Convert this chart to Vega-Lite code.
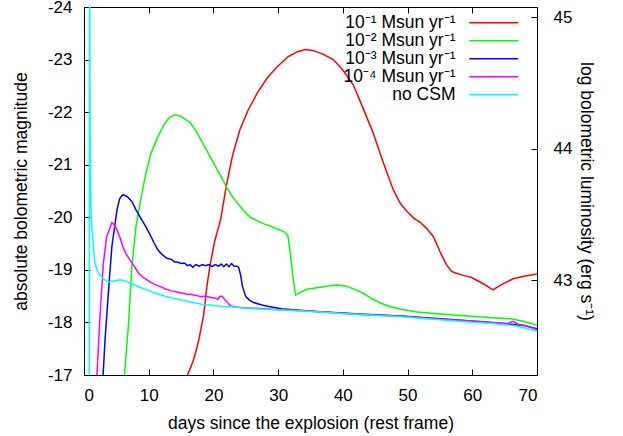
{
  "$schema": "https://vega.github.io/schema/vega-lite/v6.json",
  "autosize": {"type": "none"},
  "padding": {"left": 84, "top": 7, "right": 86, "bottom": 61},
  "width": 453,
  "height": 368,
  "background": "white",
  "config": {
    "font": "Liberation Sans",
    "view": {"stroke": "black", "strokeWidth": 1},
    "axis": {"grid": false, "domain": false, "tickColor": "black", "tickSize": -6, "tickWidth": 1, "labelFont": "Liberation Sans", "labelFontSize": 17, "labelColor": "black", "titleFont": "Liberation Sans", "titleFontSize": 17.5, "titleFontWeight": "normal", "titleColor": "black"}
  },
  "resolve": {"scale": {"y": "independent"}, "axis": {"x": "independent", "y": "independent"}},
  "layer": [
    {
      "data": {"values": [
        {"model": "10⁻¹ Msun yr⁻¹", "t": 15.5, "m": -16.3},
        {"model": "10⁻¹ Msun yr⁻¹", "t": 16.0, "m": -17.0},
        {"model": "10⁻¹ Msun yr⁻¹", "t": 16.5, "m": -17.15},
        {"model": "10⁻¹ Msun yr⁻¹", "t": 16.9, "m": -17.28},
        {"model": "10⁻¹ Msun yr⁻¹", "t": 17.4, "m": -17.5},
        {"model": "10⁻¹ Msun yr⁻¹", "t": 17.8, "m": -17.7},
        {"model": "10⁻¹ Msun yr⁻¹", "t": 18.5, "m": -18.15},
        {"model": "10⁻¹ Msun yr⁻¹", "t": 19.0, "m": -18.7},
        {"model": "10⁻¹ Msun yr⁻¹", "t": 19.5, "m": -19.1},
        {"model": "10⁻¹ Msun yr⁻¹", "t": 20.2, "m": -19.55},
        {"model": "10⁻¹ Msun yr⁻¹", "t": 21.1, "m": -19.95},
        {"model": "10⁻¹ Msun yr⁻¹", "t": 22.0, "m": -20.6},
        {"model": "10⁻¹ Msun yr⁻¹", "t": 23.0, "m": -21.2},
        {"model": "10⁻¹ Msun yr⁻¹", "t": 24.1, "m": -21.67},
        {"model": "10⁻¹ Msun yr⁻¹", "t": 25.4, "m": -22.05},
        {"model": "10⁻¹ Msun yr⁻¹", "t": 26.8, "m": -22.37},
        {"model": "10⁻¹ Msun yr⁻¹", "t": 28.3, "m": -22.65},
        {"model": "10⁻¹ Msun yr⁻¹", "t": 29.9, "m": -22.87},
        {"model": "10⁻¹ Msun yr⁻¹", "t": 31.5, "m": -23.05},
        {"model": "10⁻¹ Msun yr⁻¹", "t": 33.0, "m": -23.15},
        {"model": "10⁻¹ Msun yr⁻¹", "t": 34.2, "m": -23.19},
        {"model": "10⁻¹ Msun yr⁻¹", "t": 35.5, "m": -23.17},
        {"model": "10⁻¹ Msun yr⁻¹", "t": 37.0, "m": -23.1},
        {"model": "10⁻¹ Msun yr⁻¹", "t": 38.5, "m": -23.0},
        {"model": "10⁻¹ Msun yr⁻¹", "t": 40.0, "m": -22.8},
        {"model": "10⁻¹ Msun yr⁻¹", "t": 41.6, "m": -22.52},
        {"model": "10⁻¹ Msun yr⁻¹", "t": 42.7, "m": -22.2},
        {"model": "10⁻¹ Msun yr⁻¹", "t": 43.7, "m": -21.9},
        {"model": "10⁻¹ Msun yr⁻¹", "t": 44.7, "m": -21.6},
        {"model": "10⁻¹ Msun yr⁻¹", "t": 45.8, "m": -21.2},
        {"model": "10⁻¹ Msun yr⁻¹", "t": 46.8, "m": -20.85},
        {"model": "10⁻¹ Msun yr⁻¹", "t": 47.8, "m": -20.52},
        {"model": "10⁻¹ Msun yr⁻¹", "t": 48.8, "m": -20.28},
        {"model": "10⁻¹ Msun yr⁻¹", "t": 49.7, "m": -20.14},
        {"model": "10⁻¹ Msun yr⁻¹", "t": 51.0, "m": -19.98},
        {"model": "10⁻¹ Msun yr⁻¹", "t": 52.0, "m": -19.9},
        {"model": "10⁻¹ Msun yr⁻¹", "t": 53.0, "m": -19.78},
        {"model": "10⁻¹ Msun yr⁻¹", "t": 54.0, "m": -19.63},
        {"model": "10⁻¹ Msun yr⁻¹", "t": 55.0, "m": -19.35},
        {"model": "10⁻¹ Msun yr⁻¹", "t": 56.0, "m": -19.1},
        {"model": "10⁻¹ Msun yr⁻¹", "t": 56.8, "m": -18.97},
        {"model": "10⁻¹ Msun yr⁻¹", "t": 57.4, "m": -18.94},
        {"model": "10⁻¹ Msun yr⁻¹", "t": 58.5, "m": -18.9},
        {"model": "10⁻¹ Msun yr⁻¹", "t": 59.8, "m": -18.86},
        {"model": "10⁻¹ Msun yr⁻¹", "t": 61.5, "m": -18.75},
        {"model": "10⁻¹ Msun yr⁻¹", "t": 63.2, "m": -18.62},
        {"model": "10⁻¹ Msun yr⁻¹", "t": 64.5, "m": -18.72},
        {"model": "10⁻¹ Msun yr⁻¹", "t": 66.3, "m": -18.83},
        {"model": "10⁻¹ Msun yr⁻¹", "t": 68.0, "m": -18.88},
        {"model": "10⁻¹ Msun yr⁻¹", "t": 70.0, "m": -18.92},

        {"model": "10⁻² Msun yr⁻¹", "t": 5.95, "m": -16.5},
        {"model": "10⁻² Msun yr⁻¹", "t": 6.25, "m": -17.0},
        {"model": "10⁻² Msun yr⁻¹", "t": 6.9, "m": -18.0},
        {"model": "10⁻² Msun yr⁻¹", "t": 7.35, "m": -19.0},
        {"model": "10⁻² Msun yr⁻¹", "t": 8.0, "m": -19.8},
        {"model": "10⁻² Msun yr⁻¹", "t": 8.7, "m": -20.3},
        {"model": "10⁻² Msun yr⁻¹", "t": 9.5, "m": -20.8},
        {"model": "10⁻² Msun yr⁻¹", "t": 10.3, "m": -21.2},
        {"model": "10⁻² Msun yr⁻¹", "t": 11.3, "m": -21.5},
        {"model": "10⁻² Msun yr⁻¹", "t": 12.3, "m": -21.75},
        {"model": "10⁻² Msun yr⁻¹", "t": 13.2, "m": -21.9},
        {"model": "10⁻² Msun yr⁻¹", "t": 14.1, "m": -21.95},
        {"model": "10⁻² Msun yr⁻¹", "t": 15.0, "m": -21.92},
        {"model": "10⁻² Msun yr⁻¹", "t": 16.4, "m": -21.8},
        {"model": "10⁻² Msun yr⁻¹", "t": 17.4, "m": -21.62},
        {"model": "10⁻² Msun yr⁻¹", "t": 18.4, "m": -21.4},
        {"model": "10⁻² Msun yr⁻¹", "t": 19.5, "m": -21.15},
        {"model": "10⁻² Msun yr⁻¹", "t": 20.6, "m": -20.9},
        {"model": "10⁻² Msun yr⁻¹", "t": 21.4, "m": -20.72},
        {"model": "10⁻² Msun yr⁻¹", "t": 22.1, "m": -20.56},
        {"model": "10⁻² Msun yr⁻¹", "t": 22.9, "m": -20.4},
        {"model": "10⁻² Msun yr⁻¹", "t": 23.7, "m": -20.27},
        {"model": "10⁻² Msun yr⁻¹", "t": 24.7, "m": -20.12},
        {"model": "10⁻² Msun yr⁻¹", "t": 25.7, "m": -20.0},
        {"model": "10⁻² Msun yr⁻¹", "t": 26.7, "m": -19.94},
        {"model": "10⁻² Msun yr⁻¹", "t": 27.7, "m": -19.88},
        {"model": "10⁻² Msun yr⁻¹", "t": 29.5, "m": -19.8},
        {"model": "10⁻² Msun yr⁻¹", "t": 31.0, "m": -19.72},
        {"model": "10⁻² Msun yr⁻¹", "t": 31.5, "m": -19.65},
        {"model": "10⁻² Msun yr⁻¹", "t": 31.9, "m": -19.3},
        {"model": "10⁻² Msun yr⁻¹", "t": 32.3, "m": -18.85},
        {"model": "10⁻² Msun yr⁻¹", "t": 32.7, "m": -18.52},
        {"model": "10⁻² Msun yr⁻¹", "t": 33.5, "m": -18.58},
        {"model": "10⁻² Msun yr⁻¹", "t": 34.5, "m": -18.63},
        {"model": "10⁻² Msun yr⁻¹", "t": 36.5, "m": -18.67},
        {"model": "10⁻² Msun yr⁻¹", "t": 38.0, "m": -18.7},
        {"model": "10⁻² Msun yr⁻¹", "t": 39.2, "m": -18.71},
        {"model": "10⁻² Msun yr⁻¹", "t": 40.5, "m": -18.69},
        {"model": "10⁻² Msun yr⁻¹", "t": 42.0, "m": -18.62},
        {"model": "10⁻² Msun yr⁻¹", "t": 43.2, "m": -18.55},
        {"model": "10⁻² Msun yr⁻¹", "t": 44.5, "m": -18.45},
        {"model": "10⁻² Msun yr⁻¹", "t": 46.0, "m": -18.36},
        {"model": "10⁻² Msun yr⁻¹", "t": 47.4, "m": -18.3},
        {"model": "10⁻² Msun yr⁻¹", "t": 49.0, "m": -18.25},
        {"model": "10⁻² Msun yr⁻¹", "t": 51.5, "m": -18.2},
        {"model": "10⁻² Msun yr⁻¹", "t": 55.0, "m": -18.16},
        {"model": "10⁻² Msun yr⁻¹", "t": 59.3, "m": -18.12},
        {"model": "10⁻² Msun yr⁻¹", "t": 63.0, "m": -18.09},
        {"model": "10⁻² Msun yr⁻¹", "t": 65.9, "m": -18.07},
        {"model": "10⁻² Msun yr⁻¹", "t": 67.5, "m": -18.03},
        {"model": "10⁻² Msun yr⁻¹", "t": 70.0, "m": -17.95},

        {"model": "10⁻³ Msun yr⁻¹", "t": 2.7, "m": -16.6},
        {"model": "10⁻³ Msun yr⁻¹", "t": 2.95, "m": -17.0},
        {"model": "10⁻³ Msun yr⁻¹", "t": 3.25, "m": -17.67},
        {"model": "10⁻³ Msun yr⁻¹", "t": 3.8, "m": -18.62},
        {"model": "10⁻³ Msun yr⁻¹", "t": 4.3, "m": -19.44},
        {"model": "10⁻³ Msun yr⁻¹", "t": 5.1, "m": -20.14},
        {"model": "10⁻³ Msun yr⁻¹", "t": 5.5, "m": -20.35},
        {"model": "10⁻³ Msun yr⁻¹", "t": 6.0, "m": -20.43},
        {"model": "10⁻³ Msun yr⁻¹", "t": 6.6, "m": -20.4},
        {"model": "10⁻³ Msun yr⁻¹", "t": 7.4, "m": -20.3},
        {"model": "10⁻³ Msun yr⁻¹", "t": 8.0, "m": -20.15},
        {"model": "10⁻³ Msun yr⁻¹", "t": 8.7, "m": -20.0},
        {"model": "10⁻³ Msun yr⁻¹", "t": 9.5, "m": -19.83},
        {"model": "10⁻³ Msun yr⁻¹", "t": 10.2, "m": -19.67},
        {"model": "10⁻³ Msun yr⁻¹", "t": 10.8, "m": -19.52},
        {"model": "10⁻³ Msun yr⁻¹", "t": 11.4, "m": -19.38},
        {"model": "10⁻³ Msun yr⁻¹", "t": 12.0, "m": -19.3},
        {"model": "10⁻³ Msun yr⁻¹", "t": 12.8, "m": -19.22},
        {"model": "10⁻³ Msun yr⁻¹", "t": 13.5, "m": -19.2},
        {"model": "10⁻³ Msun yr⁻¹", "t": 14.0, "m": -19.15},
        {"model": "10⁻³ Msun yr⁻¹", "t": 14.4, "m": -19.15},
        {"model": "10⁻³ Msun yr⁻¹", "t": 15.0, "m": -19.12},
        {"model": "10⁻³ Msun yr⁻¹", "t": 15.5, "m": -19.13},
        {"model": "10⁻³ Msun yr⁻¹", "t": 16.0, "m": -19.08},
        {"model": "10⁻³ Msun yr⁻¹", "t": 16.4, "m": -19.1},
        {"model": "10⁻³ Msun yr⁻¹", "t": 16.8, "m": -19.05},
        {"model": "10⁻³ Msun yr⁻¹", "t": 17.3, "m": -19.1},
        {"model": "10⁻³ Msun yr⁻¹", "t": 17.8, "m": -19.07},
        {"model": "10⁻³ Msun yr⁻¹", "t": 18.3, "m": -19.1},
        {"model": "10⁻³ Msun yr⁻¹", "t": 18.8, "m": -19.08},
        {"model": "10⁻³ Msun yr⁻¹", "t": 19.3, "m": -19.1},
        {"model": "10⁻³ Msun yr⁻¹", "t": 19.8, "m": -19.06},
        {"model": "10⁻³ Msun yr⁻¹", "t": 20.3, "m": -19.1},
        {"model": "10⁻³ Msun yr⁻¹", "t": 20.8, "m": -19.07},
        {"model": "10⁻³ Msun yr⁻¹", "t": 21.2, "m": -19.11},
        {"model": "10⁻³ Msun yr⁻¹", "t": 21.6, "m": -19.06},
        {"model": "10⁻³ Msun yr⁻¹", "t": 22.0, "m": -19.11},
        {"model": "10⁻³ Msun yr⁻¹", "t": 22.4, "m": -19.06},
        {"model": "10⁻³ Msun yr⁻¹", "t": 22.8, "m": -19.12},
        {"model": "10⁻³ Msun yr⁻¹", "t": 23.2, "m": -19.07},
        {"model": "10⁻³ Msun yr⁻¹", "t": 23.6, "m": -19.07},
        {"model": "10⁻³ Msun yr⁻¹", "t": 23.9, "m": -19.05},
        {"model": "10⁻³ Msun yr⁻¹", "t": 24.2, "m": -18.9},
        {"model": "10⁻³ Msun yr⁻¹", "t": 24.5, "m": -18.68},
        {"model": "10⁻³ Msun yr⁻¹", "t": 25.0, "m": -18.49},
        {"model": "10⁻³ Msun yr⁻¹", "t": 25.6, "m": -18.42},
        {"model": "10⁻³ Msun yr⁻¹", "t": 26.2, "m": -18.38},
        {"model": "10⁻³ Msun yr⁻¹", "t": 27.5, "m": -18.33},
        {"model": "10⁻³ Msun yr⁻¹", "t": 28.8, "m": -18.3},
        {"model": "10⁻³ Msun yr⁻¹", "t": 30.5, "m": -18.26},
        {"model": "10⁻³ Msun yr⁻¹", "t": 32.4, "m": -18.24},
        {"model": "10⁻³ Msun yr⁻¹", "t": 36.0, "m": -18.21},
        {"model": "10⁻³ Msun yr⁻¹", "t": 40.0, "m": -18.18},
        {"model": "10⁻³ Msun yr⁻¹", "t": 44.0, "m": -18.15},
        {"model": "10⁻³ Msun yr⁻¹", "t": 48.9, "m": -18.12},
        {"model": "10⁻³ Msun yr⁻¹", "t": 54.0, "m": -18.08},
        {"model": "10⁻³ Msun yr⁻¹", "t": 59.3, "m": -18.03},
        {"model": "10⁻³ Msun yr⁻¹", "t": 63.0, "m": -18.0},
        {"model": "10⁻³ Msun yr⁻¹", "t": 66.4, "m": -17.96},
        {"model": "10⁻³ Msun yr⁻¹", "t": 68.0, "m": -17.94},
        {"model": "10⁻³ Msun yr⁻¹", "t": 70.0, "m": -17.88},

        {"model": "10⁻⁴ Msun yr⁻¹", "t": 1.85, "m": -16.6},
        {"model": "10⁻⁴ Msun yr⁻¹", "t": 2.0, "m": -17.0},
        {"model": "10⁻⁴ Msun yr⁻¹", "t": 2.5, "m": -18.18},
        {"model": "10⁻⁴ Msun yr⁻¹", "t": 3.0, "m": -19.13},
        {"model": "10⁻⁴ Msun yr⁻¹", "t": 3.5, "m": -19.63},
        {"model": "10⁻⁴ Msun yr⁻¹", "t": 4.3, "m": -19.9},
        {"model": "10⁻⁴ Msun yr⁻¹", "t": 4.7, "m": -19.85},
        {"model": "10⁻⁴ Msun yr⁻¹", "t": 5.1, "m": -19.76},
        {"model": "10⁻⁴ Msun yr⁻¹", "t": 5.6, "m": -19.6},
        {"model": "10⁻⁴ Msun yr⁻¹", "t": 6.0, "m": -19.44},
        {"model": "10⁻⁴ Msun yr⁻¹", "t": 6.5, "m": -19.3},
        {"model": "10⁻⁴ Msun yr⁻¹", "t": 7.1, "m": -19.19},
        {"model": "10⁻⁴ Msun yr⁻¹", "t": 7.7, "m": -19.08},
        {"model": "10⁻⁴ Msun yr⁻¹", "t": 8.4, "m": -18.94},
        {"model": "10⁻⁴ Msun yr⁻¹", "t": 9.2, "m": -18.85},
        {"model": "10⁻⁴ Msun yr⁻¹", "t": 10.2, "m": -18.77},
        {"model": "10⁻⁴ Msun yr⁻¹", "t": 11.0, "m": -18.72},
        {"model": "10⁻⁴ Msun yr⁻¹", "t": 11.8, "m": -18.68},
        {"model": "10⁻⁴ Msun yr⁻¹", "t": 12.5, "m": -18.64},
        {"model": "10⁻⁴ Msun yr⁻¹", "t": 13.0, "m": -18.62},
        {"model": "10⁻⁴ Msun yr⁻¹", "t": 13.5, "m": -18.6},
        {"model": "10⁻⁴ Msun yr⁻¹", "t": 14.0, "m": -18.59},
        {"model": "10⁻⁴ Msun yr⁻¹", "t": 14.4, "m": -18.58},
        {"model": "10⁻⁴ Msun yr⁻¹", "t": 15.0, "m": -18.56},
        {"model": "10⁻⁴ Msun yr⁻¹", "t": 15.5, "m": -18.55},
        {"model": "10⁻⁴ Msun yr⁻¹", "t": 16.0, "m": -18.53},
        {"model": "10⁻⁴ Msun yr⁻¹", "t": 16.5, "m": -18.54},
        {"model": "10⁻⁴ Msun yr⁻¹", "t": 16.9, "m": -18.52},
        {"model": "10⁻⁴ Msun yr⁻¹", "t": 17.5, "m": -18.51},
        {"model": "10⁻⁴ Msun yr⁻¹", "t": 18.0, "m": -18.49},
        {"model": "10⁻⁴ Msun yr⁻¹", "t": 18.5, "m": -18.5},
        {"model": "10⁻⁴ Msun yr⁻¹", "t": 19.2, "m": -18.49},
        {"model": "10⁻⁴ Msun yr⁻¹", "t": 19.8, "m": -18.47},
        {"model": "10⁻⁴ Msun yr⁻¹", "t": 20.3, "m": -18.46},
        {"model": "10⁻⁴ Msun yr⁻¹", "t": 20.7, "m": -18.44},
        {"model": "10⁻⁴ Msun yr⁻¹", "t": 21.0, "m": -18.5},
        {"model": "10⁻⁴ Msun yr⁻¹", "t": 21.3, "m": -18.5},
        {"model": "10⁻⁴ Msun yr⁻¹", "t": 21.8, "m": -18.43},
        {"model": "10⁻⁴ Msun yr⁻¹", "t": 22.3, "m": -18.36},
        {"model": "10⁻⁴ Msun yr⁻¹", "t": 22.6, "m": -18.32},
        {"model": "10⁻⁴ Msun yr⁻¹", "t": 23.3, "m": -18.3},
        {"model": "10⁻⁴ Msun yr⁻¹", "t": 24.5, "m": -18.28},
        {"model": "10⁻⁴ Msun yr⁻¹", "t": 26.2, "m": -18.27},
        {"model": "10⁻⁴ Msun yr⁻¹", "t": 28.0, "m": -18.26},
        {"model": "10⁻⁴ Msun yr⁻¹", "t": 30.0, "m": -18.24},
        {"model": "10⁻⁴ Msun yr⁻¹", "t": 33.4, "m": -18.22},
        {"model": "10⁻⁴ Msun yr⁻¹", "t": 37.0, "m": -18.2},
        {"model": "10⁻⁴ Msun yr⁻¹", "t": 40.0, "m": -18.17},
        {"model": "10⁻⁴ Msun yr⁻¹", "t": 44.0, "m": -18.14},
        {"model": "10⁻⁴ Msun yr⁻¹", "t": 48.9, "m": -18.12},
        {"model": "10⁻⁴ Msun yr⁻¹", "t": 54.0, "m": -18.07},
        {"model": "10⁻⁴ Msun yr⁻¹", "t": 59.3, "m": -18.03},
        {"model": "10⁻⁴ Msun yr⁻¹", "t": 63.0, "m": -18.0},
        {"model": "10⁻⁴ Msun yr⁻¹", "t": 65.5, "m": -17.98},
        {"model": "10⁻⁴ Msun yr⁻¹", "t": 66.3, "m": -18.02},
        {"model": "10⁻⁴ Msun yr⁻¹", "t": 67.0, "m": -17.97},
        {"model": "10⁻⁴ Msun yr⁻¹", "t": 68.5, "m": -17.93},
        {"model": "10⁻⁴ Msun yr⁻¹", "t": 70.0, "m": -17.86},

        {"model": "no CSM", "t": 0.8, "m": -16.0},
        {"model": "no CSM", "t": 0.87, "m": -25.0},
        {"model": "no CSM", "t": 0.93, "m": -22.0},
        {"model": "no CSM", "t": 1.0, "m": -20.6},
        {"model": "no CSM", "t": 1.1, "m": -20.1},
        {"model": "no CSM", "t": 1.25, "m": -19.75},
        {"model": "no CSM", "t": 1.5, "m": -19.35},
        {"model": "no CSM", "t": 1.7, "m": -19.13},
        {"model": "no CSM", "t": 2.0, "m": -19.0},
        {"model": "no CSM", "t": 2.5, "m": -18.9},
        {"model": "no CSM", "t": 3.0, "m": -18.83},
        {"model": "no CSM", "t": 3.7, "m": -18.77},
        {"model": "no CSM", "t": 4.5, "m": -18.79},
        {"model": "no CSM", "t": 5.6, "m": -18.81},
        {"model": "no CSM", "t": 6.3, "m": -18.79},
        {"model": "no CSM", "t": 7.1, "m": -18.75},
        {"model": "no CSM", "t": 8.4, "m": -18.68},
        {"model": "no CSM", "t": 9.7, "m": -18.62},
        {"model": "no CSM", "t": 11.2, "m": -18.55},
        {"model": "no CSM", "t": 12.8, "m": -18.49},
        {"model": "no CSM", "t": 14.5, "m": -18.44},
        {"model": "no CSM", "t": 16.4, "m": -18.39},
        {"model": "no CSM", "t": 18.0, "m": -18.35},
        {"model": "no CSM", "t": 19.5, "m": -18.33},
        {"model": "no CSM", "t": 21.0, "m": -18.31},
        {"model": "no CSM", "t": 22.6, "m": -18.3},
        {"model": "no CSM", "t": 25.0, "m": -18.27},
        {"model": "no CSM", "t": 28.0, "m": -18.25},
        {"model": "no CSM", "t": 30.0, "m": -18.24},
        {"model": "no CSM", "t": 33.4, "m": -18.22},
        {"model": "no CSM", "t": 36.5, "m": -18.2},
        {"model": "no CSM", "t": 40.0, "m": -18.17},
        {"model": "no CSM", "t": 44.0, "m": -18.14},
        {"model": "no CSM", "t": 48.9, "m": -18.11},
        {"model": "no CSM", "t": 54.0, "m": -18.06},
        {"model": "no CSM", "t": 59.3, "m": -18.01},
        {"model": "no CSM", "t": 63.0, "m": -17.98},
        {"model": "no CSM", "t": 66.4, "m": -17.94},
        {"model": "no CSM", "t": 68.0, "m": -17.9},
        {"model": "no CSM", "t": 70.0, "m": -17.83}
      ]},
      "mark": {"type": "line", "clip": true, "strokeWidth": 1.5},
      "encoding": {
        "x": {"field": "t", "type": "quantitative", "scale": {"domain": [0, 70], "nice": false},
              "axis": {"orient": "bottom", "values": [0, 10, 20, 30, 40, 50, 60, 70], "labelPadding": 18, "title": "days since the explosion (rest frame)", "titlePadding": 11}},
        "y": {"field": "m", "type": "quantitative", "scale": {"domain": [-24, -17], "reverse": true, "nice": false, "zero": false},
              "axis": {"orient": "left", "values": [-24, -23, -22, -21, -20, -19, -18, -17], "labelExpr": "datum.value + ''", "labelPadding": 18, "title": "absolute bolometric magnitude", "titlePadding": 17}},
        "color": {"field": "model", "type": "nominal",
                  "scale": {"domain": ["10⁻¹ Msun yr⁻¹", "10⁻² Msun yr⁻¹", "10⁻³ Msun yr⁻¹", "10⁻⁴ Msun yr⁻¹", "no CSM"], "range": ["#ff0000", "#00ff00", "#0000ff", "#ff00ff", "#00ffff"]},
                  "legend": {"orient": "none", "legendX": 401, "legendY": 7, "title": null, "symbolType": "M-4,0H4", "symbolSize": 150, "symbolStrokeWidth": 1.5, "labelFont": "Liberation Sans", "labelFontSize": 17.5, "labelColor": "black", "labelAlign": "right", "labelOffset": -47, "rowPadding": -2, "padding": 0, "labelLimit": 300}}
      }
    },
    {
      "data": {"values": [{}]},
      "mark": {"type": "point", "opacity": 0},
      "encoding": {
        "x": {"datum": 35, "type": "quantitative", "scale": {"domain": [0, 70], "nice": false},
              "axis": {"orient": "top", "values": [0, 10, 20, 30, 40, 50, 60, 70], "labels": false, "title": null}},
        "y": {"datum": 44, "type": "quantitative", "scale": {"domain": [42.279, 45.079], "nice": false, "zero": false},
              "axis": {"orient": "right", "values": [43, 44, 45], "labelPadding": 22, "title": "log bolometric luminosity (erg s⁻¹)", "titlePadding": 5}}
      }
    }
  ]
}
